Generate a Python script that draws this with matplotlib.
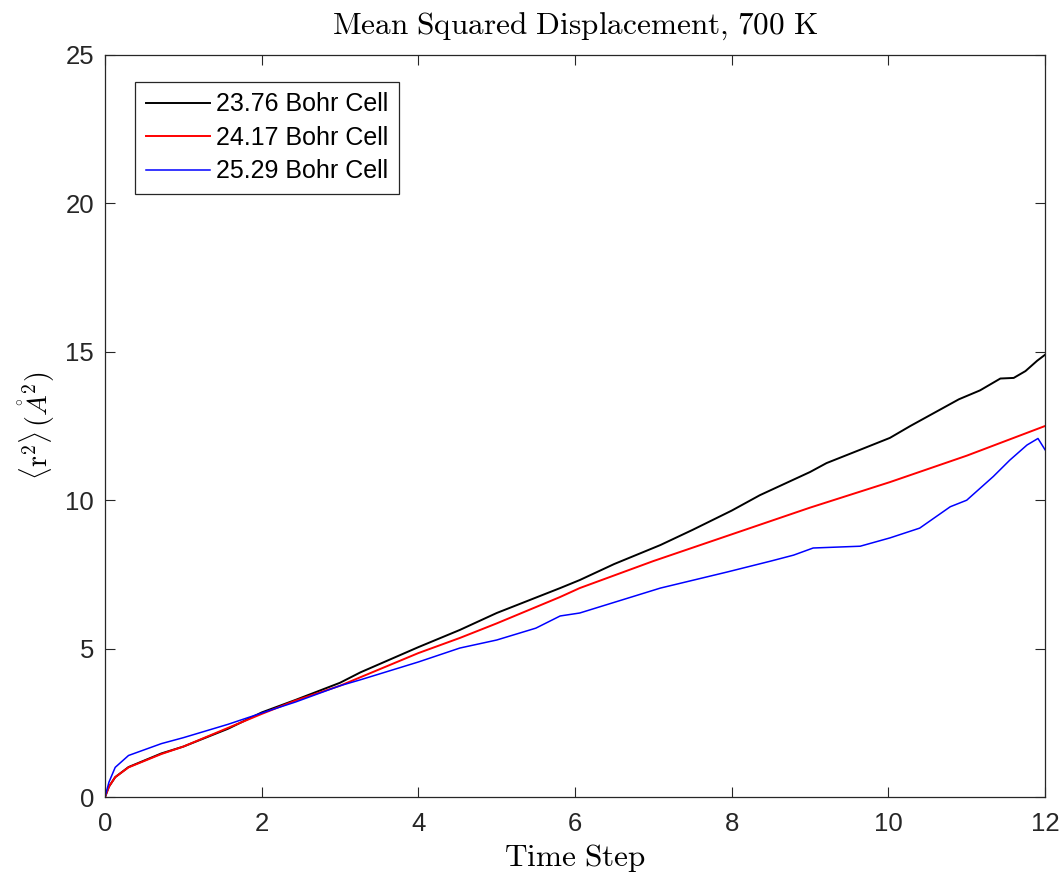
import matplotlib
matplotlib.use("Agg")
import matplotlib.pyplot as plt

plt.rcParams['font.family'] = ['Liberation Sans', 'DejaVu Sans']
plt.rcParams['mathtext.fontset'] = 'cm'

# values
t_black = [0, 0.05, 0.13, 0.3, 0.72, 1.0, 1.57, 2.0, 2.43, 3.0, 3.26, 4.0, 4.53,
           5.0, 5.81, 6.06, 6.5, 7.09, 7.5, 8.0, 8.36, 9.0, 9.21, 9.64, 10.02,
           10.28, 10.9, 11.17, 11.43, 11.6, 11.75, 11.9, 12.0]
msd_black = [0, 0.35, 0.67, 1.01, 1.47, 1.7, 2.3, 2.85, 3.27, 3.85, 4.2, 5.05, 5.63,
             6.2, 7.04, 7.31, 7.85, 8.49, 9.0, 9.65, 10.17, 10.95, 11.25, 11.7, 12.1,
             12.5, 13.4, 13.7, 14.1, 14.12, 14.35, 14.7, 14.9]

t_red = [0, 0.05, 0.13, 0.3, 0.72, 1.0, 1.57, 2.0, 2.43, 3.0, 3.5, 4.0, 4.53,
         5.0, 5.81, 6.06, 7.0, 8.0, 9.0, 10.02, 11.0, 12.0]
msd_red = [0, 0.35, 0.67, 1.0, 1.45, 1.7, 2.33, 2.8, 3.25, 3.75, 4.3, 4.85, 5.36,
           5.85, 6.74, 7.04, 7.95, 8.85, 9.75, 10.61, 11.5, 12.5]

t_blue = [0, 0.05, 0.13, 0.3, 0.72, 1.0, 1.57, 2.0, 2.43, 3.0, 3.26, 4.0, 4.53,
          5.0, 5.5, 5.81, 6.06, 7.09, 7.94, 8.5, 8.79, 9.04, 9.64, 10.02, 10.4,
          10.79, 11.0, 11.34, 11.55, 11.77, 11.91, 12.0]
msd_blue = [0, 0.5, 1.0, 1.4, 1.8, 2.0, 2.45, 2.83, 3.2, 3.75, 3.95, 4.55, 5.02,
            5.29, 5.69, 6.1, 6.2, 7.04, 7.58, 7.95, 8.15, 8.39, 8.45, 8.73, 9.06,
            9.78, 10.0, 10.8, 11.35, 11.86, 12.08, 11.7]

labels = ['23.76 Bohr Cell', '24.17 Bohr Cell', '25.29 Bohr Cell']

fig = plt.figure(figsize=(10.63, 8.81), dpi=100)
ax = fig.add_axes([0.0988, 0.0953, 0.8843, 0.8423])

ax.plot(t_black, msd_black, color='black', lw=1.4, label=labels[0])
ax.plot(t_red, msd_red, color='#ff0000', lw=1.4, label=labels[1])
ax.plot(t_blue, msd_blue, color='#0000ff', lw=1.1, label=labels[2])

ax.set_xlim(0, 12)
ax.set_ylim(0, 25)
ax.set_xticks([0, 2, 4, 6, 8, 10, 12])
ax.set_yticks([0, 5, 10, 15, 20, 25])
ax.tick_params(direction='in', top=True, right=True, labelsize=18.5,
               length=7, width=0.8, colors='#262626')
ax.tick_params(axis='x', pad=11)
ax.tick_params(axis='y', pad=8)
for s in ax.spines.values():
    s.set_color('#262626')
    s.set_linewidth(0.9)

ax.set_title(r'$\mathrm{Mean\ Squared\ Displacement{,}\ 700\ K}$', fontsize=22.5, pad=15)
ax.set_xlabel(r'$\mathrm{Time\ Step}$', fontsize=22.5, labelpad=4)
ax.set_ylabel(r'$\langle \mathrm{r}^2 \rangle\, (\mathring{A}^2)$', fontsize=20, labelpad=6)

leg = ax.legend(loc='upper left', bbox_to_anchor=(0.0319, 0.9636), borderaxespad=0,
                fontsize=18, fancybox=False, framealpha=1, edgecolor='#262626',
                handlelength=2.56, borderpad=0.42, labelspacing=0.38, handletextpad=0.25)
leg.get_frame().set_linewidth(0.9)

fig.savefig('out.png', dpi=100)
